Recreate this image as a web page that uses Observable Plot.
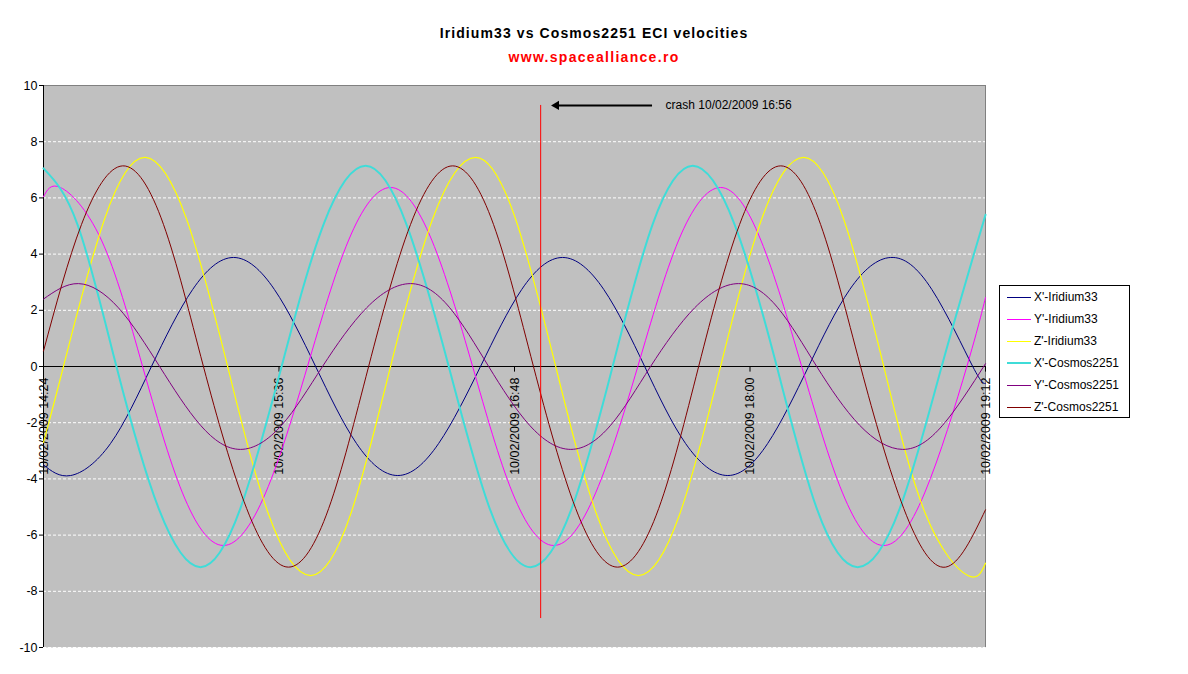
<!DOCTYPE html>
<html><head><meta charset="utf-8">
<script src="https://cdn.jsdelivr.net/npm/d3@7"></script>
<script src="https://cdn.jsdelivr.net/npm/@observablehq/plot@0.6"></script>
<style>
body{margin:0;background:#fff;font-family:"Liberation Sans",Arial,sans-serif;}
#wrap{position:relative;width:1188px;height:674px;overflow:hidden;}
#title{position:absolute;left:0;width:1188px;top:25px;text-align:center;font-weight:bold;font-size:14px;line-height:16px;letter-spacing:1.1px;color:#000;}
#sub{position:absolute;left:0;width:1188px;top:49px;text-align:center;font-weight:bold;font-size:14px;line-height:16px;letter-spacing:1.3px;color:#f00;}
#chart{position:absolute;left:0;top:70px;}
#legend{position:absolute;left:999px;top:285px;width:129px;height:131px;border:1px solid #000;background:#fff;font-size:12px;box-sizing:content-box;}
.row{height:22px;display:flex;align-items:center;}
.sw{display:inline-block;width:24px;height:0;margin-left:7px;margin-right:3px;}
</style>
</head><body>
<div id="wrap">
<div id="title">Iridium33 vs Cosmos2251 ECI velocities</div>
<div id="sub">www.spacealliance.ro</div>
<div id="chart"></div>
<div id="legend"></div>
</div>
<script>
// ---- data (minutes after 10/02/2009 14:24, velocity km/s) ----
const seriesNames = ["X'-Iridium33","Y'-Iridium33","Z'-Iridium33","X'-Cosmos2251","Y'-Cosmos2251","Z'-Cosmos2251"];

const xIridiumMin = [0,8.3,20.5,33.0,45.6,58.1,70.6,83.2,95.7,108.3,120.8,133.6,146.2,158.7,171.3,183.8,196.3,209.2,221.4,233.9,246.5,259.0,271.6,284.1,288];
const xIridiumVal = [-3.5,-3.88,-2.74,0,2.74,3.88,2.74,0,-2.74,-3.88,-2.74,0,2.74,3.88,2.74,0,-2.74,-3.88,-2.74,0,2.74,3.88,2.74,0,-0.6];

const yIridiumMin = [0,5.2,17.7,30.3,42.5,55.0,67.9,80.7,93.3,106.1,118.7,131.2,143.4,156.0,168.8,181.7,194.2,207.0,219.3,231.8,244.3,256.6,269.4,282.3,288];
const yIridiumVal = [6.04,6.37,4.5,0,-4.5,-6.37,-4.5,0,4.5,6.37,4.5,0,-4.5,-6.37,-4.5,0,4.5,6.37,4.5,0,-4.5,-6.37,-4.5,0,2.45];

const zIridiumMin = [0,6.1,18.7,31.2,43.7,56.3,68.8,81.7,93.9,106.1,119.0,132.1,144.3,156.6,169.1,181.9,194.5,207.0,219.6,232.4,244.6,256.9,269.7,282.6,288];
const zIridiumVal = [-2.7,0,5.26,7.44,5.26,0,-5.26,-7.44,-5.26,0,5.26,7.44,5.26,0,-5.26,-7.44,-5.26,0,5.26,7.44,5.26,0,-5.26,-7.44,-7.0];

const xCosmosMin = [0,10.4,22.3,35.2,48.0,60.2,72.8,85.6,98.5,111.0,123.9,136.4,148.9,161.5,174.0,186.2,198.5,211.3,224.2,236.4,248.9,261.8,274.6,288];
const xCosmosVal = [7.05,5.05,0,-5.05,-7.14,-5.05,0,5.05,7.14,5.05,0,-5.05,-7.14,-5.05,0,5.05,7.14,5.05,0,-5.05,-7.14,-5.05,0,5.4];

const yCosmosMin = [0,10.7,22.9,35.5,48.0,60.2,72.8,85.3,98.8,112.2,124.2,136.1,148.6,161.2,173.4,185.6,199.1,212.5,224.5,236.4,249.5,262.7,274.9,288];
const yCosmosVal = [2.4,2.95,2.09,0,-2.09,-2.95,-2.09,0,2.09,2.95,2.09,0,-2.09,-2.95,-2.09,0,2.09,2.95,2.09,0,-2.09,-2.95,-2.09,0.1];

const zCosmosMin = [0,11.6,24.2,36.7,48.9,62.1,74.9,87.2,99.4,112.2,125.1,137.6,149.8,162.7,175.5,188.1,200.3,212.8,225.4,237.6,249.8,263.0,275.8,288];
const zCosmosVal = [0.55,5.05,7.14,5.05,0,-5.05,-7.14,-5.05,0,5.05,7.14,5.05,0,-5.05,-7.14,-5.05,0,5.05,7.14,5.05,0,-5.05,-7.14,-5.1];

const xTickLabels = ["10/02/2009 14:24","10/02/2009 15:36","10/02/2009 16:48","10/02/2009 18:00","10/02/2009 19:12"];
const yTicks = [-10,-8,-6,-4,-2,0,2,4,6,8,10];
const crashLabel = "crash 10/02/2009 16:56";
const crashTime = "10/02/2009 16:56";

// ---- styles ----
const colors = ["#000080","#ff00ff","#ffff00","#3fdcd8","#800080","#800000"];
const widths = [1,1,1.2,2,1,1];

const parse = d3.utcParse("%d/%m/%Y %H:%M");
const t0 = parse(xTickLabels[0]);
const T = m => new Date(+t0 + m*60000);

const mins = [xIridiumMin,yIridiumMin,zIridiumMin,xCosmosMin,yCosmosMin,zCosmosMin];
const vals = [xIridiumVal,yIridiumVal,zIridiumVal,xCosmosVal,yCosmosVal,zCosmosVal];
const series = seriesNames.map((name,i)=>mins[i].map((m,j)=>({t:T(m), v:vals[i][j], s:name})));

const xTicks = xTickLabels.map(l=>({t:parse(l), label:l}));
const crash = parse(crashTime);
const tStart = xTicks[0].t, tEnd = xTicks[xTicks.length-1].t;

const lineMarks = series.map((rows,i)=>Plot.line(rows,{x:"t",y:"v",stroke:colors[i],strokeWidth:widths[i],curve:"natural"}));

const chart = Plot.plot({
  width:1188, height:604,
  marginLeft:43, marginRight:203, marginTop:15, marginBottom:27,
  style:{fontFamily:"'Liberation Sans', Arial, sans-serif", fontSize:"12px", background:"transparent", color:"#000"},
  x:{type:"utc", domain:[tStart,tEnd], axis:null},
  y:{domain:[-10,10], axis:null},
  marks:[
    Plot.frame({fill:"#c0c0c0", stroke:null}),
    Plot.ruleY(yTicks.filter(v=>v!==0 && v!==10), {stroke:"#ffffff", strokeDasharray:"3,2"}),
    Plot.ruleY([10], {stroke:"#808080"}),
    Plot.ruleX([tEnd], {stroke:"#808080"}),
    Plot.ruleX([tStart], {stroke:"#000"}),
    Plot.ruleY([0], {stroke:"#000"}),
    Plot.axisY({ticks:yTicks, tickSize:4, tickPadding:2, label:null, fontSize:12.5, tickFormat:d=>String(d)}),
    Plot.ruleX(xTicks, {x:"t", y1:0, y2:-0.2, stroke:"#000"}),
    Plot.text(xTicks, {x:"t", y:()=>0, text:"label", rotate:-90, textAnchor:"end", dy:11, fontSize:12.5, fill:"#000"}),
    ...lineMarks,
    Plot.ruleX([crash], {y1:-8.97, y2:9.29, stroke:"#ff0000"}),
    Plot.ruleY([9.29], {x1:T(186.2), x2:T(157), stroke:"#000", strokeWidth:2}),
    Plot.dot([crash], {x:()=>T(156.8), y:()=>9.29, symbol:"triangle", r:3.4, rotate:-90, fill:"#000", stroke:null}),
    Plot.text([crashLabel], {x:()=>T(190.2), y:()=>9.29, text:d=>d, textAnchor:"start", fontSize:12, fill:"#000"})
  ]
});
document.getElementById("chart").appendChild(chart);

const leg = document.getElementById("legend");
seriesNames.forEach((n,i)=>{
  const r = document.createElement("div"); r.className="row";
  const s = document.createElement("span"); s.className="sw"; s.style.borderTop = `${widths[i]>1.5?2:1}px solid ${colors[i]}`;
  const tx = document.createElement("span"); tx.textContent = n;
  r.appendChild(s); r.appendChild(tx); leg.appendChild(r);
});
</script>
</body></html>
